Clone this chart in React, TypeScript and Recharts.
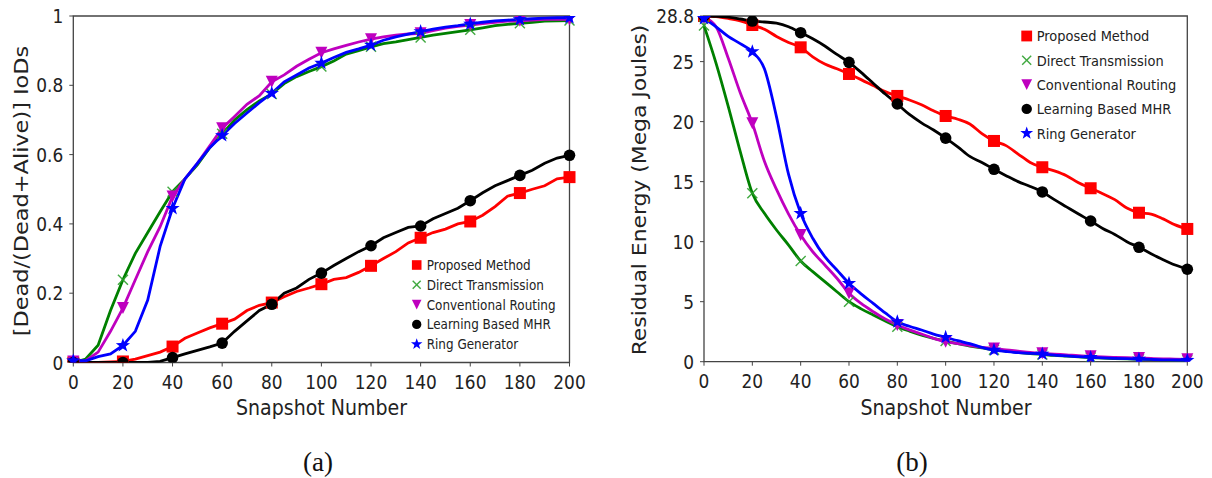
import React from 'react';
import { LineChart, Line, XAxis, YAxis, ReferenceArea } from 'recharts';

// ---------- data ----------
const snapshots = [0,5,10,15,20,25,30,35,40,45,50,55,60,65,70,75,80,85,90,95,100,105,110,115,120,125,130,135,140,145,150,155,160,165,170,175,180,185,190,195,200];
const snapshotTicks = [0,20,40,60,80,100,120,140,160,180,200];

// (a) Dead/(Dead+Alive) IoDs
const iodProposed = [0,0,0,0.002,0.003,0.01,0.02,0.03,0.046,0.07,0.085,0.1,0.112,0.125,0.15,0.165,0.173,0.19,0.205,0.215,0.226,0.24,0.245,0.26,0.279,0.3,0.32,0.345,0.36,0.375,0.385,0.4,0.407,0.425,0.45,0.48,0.489,0.5,0.51,0.53,0.535];
const iodDirect = [0,0.01,0.05,0.15,0.239,0.315,0.375,0.435,0.493,0.53,0.57,0.62,0.66,0.7,0.73,0.755,0.775,0.805,0.825,0.84,0.854,0.87,0.89,0.9,0.911,0.92,0.925,0.932,0.938,0.945,0.95,0.955,0.96,0.966,0.972,0.976,0.979,0.982,0.985,0.986,0.987];
const iodConventional = [0.003,0.005,0.03,0.09,0.157,0.239,0.32,0.392,0.479,0.53,0.575,0.625,0.676,0.71,0.745,0.77,0.81,0.83,0.855,0.875,0.894,0.905,0.915,0.925,0.933,0.94,0.945,0.948,0.95,0.958,0.965,0.97,0.974,0.978,0.982,0.985,0.986,0.988,0.99,0.99,0.99];
const iodLearning = [0,0,0,0,0,0,0,0.003,0.014,0.025,0.035,0.045,0.056,0.09,0.12,0.15,0.168,0.2,0.215,0.24,0.258,0.28,0.3,0.32,0.337,0.36,0.375,0.39,0.394,0.415,0.43,0.445,0.467,0.49,0.51,0.525,0.54,0.555,0.575,0.59,0.598];
const iodRing = [0.005,0.005,0.017,0.025,0.049,0.09,0.18,0.335,0.445,0.53,0.575,0.62,0.655,0.69,0.72,0.75,0.777,0.81,0.83,0.85,0.864,0.88,0.895,0.905,0.916,0.93,0.94,0.948,0.955,0.962,0.968,0.972,0.977,0.982,0.986,0.988,0.99,0.992,0.994,0.995,0.995];
const iodTicks = [0,0.2,0.4,0.6,0.8,1];

// (b) Residual energy (Mega Joules)
const energyProposed = [28.8,28.75,28.6,28.4,28.05,27.7,27.1,26.6,26.19,25.4,24.8,24.4,23.97,23.5,23.0,22.5,22.14,21.8,21.4,20.9,20.47,20.2,19.8,19.0,18.39,18.0,17.3,16.6,16.2,15.9,15.5,14.9,14.45,14.0,13.5,12.8,12.41,12.3,11.9,11.4,11.06];
const energyDirect = [28.0,24.86,21.3,17.5,14.03,12.36,10.97,9.72,8.39,7.5,6.67,5.83,5.0,4.4,3.89,3.4,2.92,2.55,2.22,1.95,1.72,1.5,1.3,1.15,1.0,0.88,0.78,0.68,0.6,0.52,0.46,0.4,0.35,0.3,0.26,0.23,0.2,0.17,0.15,0.13,0.12];
const energyConventional = [28.7,27.9,25.3,22.4,19.86,16.7,14.35,12.3,10.56,9.16,8.06,6.95,5.7,4.85,4.17,3.55,3.06,2.65,2.31,1.95,1.67,1.5,1.35,1.2,1.1,0.98,0.88,0.78,0.7,0.63,0.57,0.5,0.45,0.4,0.36,0.33,0.3,0.27,0.24,0.22,0.2];
const energyLearning = [28.8,28.78,28.7,28.55,28.38,28.3,28.2,27.9,27.41,26.9,26.3,25.6,24.94,24.1,23.2,22.3,21.47,20.6,19.9,19.3,18.63,17.9,17.1,16.6,16.03,15.5,15.0,14.6,14.14,13.5,12.9,12.3,11.72,11.1,10.6,10.0,9.53,9.0,8.5,8.05,7.7];
const energyRing = [28.6,27.9,27.1,26.5,25.83,24.4,20.4,15.6,12.36,10.28,8.75,7.64,6.53,5.65,4.86,4.07,3.33,2.95,2.64,2.3,2.03,1.75,1.5,1.2,0.97,0.85,0.75,0.7,0.64,0.55,0.48,0.42,0.36,0.32,0.28,0.25,0.22,0.19,0.16,0.14,0.12];
const energyTicks = [0,5,10,15,20,25,28.8];

const seriesNames = ['Proposed Method','Direct Transmission','Conventional Routing','Learning Based MHR','Ring Generator'];
const seriesColors = ['#ff0000','#008000','#bf00bf','#000000','#0000ff'];
const markerKinds = ['square','x','tri','circle','star'];

const iodRows = snapshots.map((s, i) => ({ x: s, s0: iodProposed[i], s1: iodDirect[i], s2: iodConventional[i], s3: iodLearning[i], s4: iodRing[i] }));
const energyRows = snapshots.map((s, i) => ({ x: s, s0: energyProposed[i], s1: energyDirect[i], s2: energyConventional[i], s3: energyLearning[i], s4: energyRing[i] }));

// ---------- markers ----------
function starPath(cx: number, cy: number, R: number, r: number) {
  let d = '';
  for (let k = 0; k < 10; k++) {
    const rad = k % 2 === 0 ? R : r;
    const a = -Math.PI / 2 + (k * Math.PI) / 5;
    d += (k === 0 ? 'M' : 'L') + (cx + rad * Math.cos(a)).toFixed(2) + ',' + (cy + rad * Math.sin(a)).toFixed(2);
  }
  return d + 'Z';
}

function Marker({ kind, cx, cy, color, s }: { kind: string; cx: number; cy: number; color: string; s: number }) {
  if (kind === 'square') return <rect x={cx - 6 * s} y={cy - 6 * s} width={12 * s} height={12 * s} fill={color} />;
  if (kind === 'x') {
    const h = 5 * s;
    return (
      <g stroke="#2ca02c" strokeWidth={1.4} opacity={0.9}>
        <line x1={cx - h} y1={cy - h} x2={cx + h} y2={cy + h} />
        <line x1={cx - h} y1={cy + h} x2={cx + h} y2={cy - h} />
      </g>
    );
  }
  if (kind === 'tri') {
    const r = 6 * s;
    return <polygon points={`${cx - r},${cy - r} ${cx + r},${cy - r} ${cx},${cy + r}`} fill={color} />;
  }
  if (kind === 'circle') return <circle cx={cx} cy={cy} r={5.8 * s} fill={color} />;
  return <path d={starPath(cx, cy, 7.5 * s, 3 * s)} fill={color} />;
}

function makeDot(idx: number) {
  return (p: any) => {
    const key = `d${idx}-${p.index}`;
    if (p.payload == null || p.payload.x % 20 !== 0 || p.cx == null) return <g key={key} />;
    return (
      <g key={key}>
        <Marker kind={markerKinds[idx]} cx={p.cx} cy={p.cy} color={seriesColors[idx]} s={1} />
      </g>
    );
  };
}

// ---------- ticks ----------
const FONT = '"DejaVu Sans", Verdana, sans-serif';
const SY = 1.15;

function XTick(p: any) {
  return (
    <g transform={`translate(${p.x},${p.y}) scale(1,${SY})`}>
      <text x={0} y={14} textAnchor="middle" fontFamily={FONT} fontSize={17} fill="#222">
        {String(p.payload.value)}
      </text>
    </g>
  );
}

function YTick(p: any) {
  return (
    <g transform={`translate(${p.x},${p.y}) scale(1,${SY})`}>
      <text x={0} y={6.2} textAnchor="end" fontFamily={FONT} fontSize={17} fill="#222">
        {String(p.payload.value)}
      </text>
    </g>
  );
}

// ---------- panel ----------
function Panel({ rows, yDomain, yTicks, width, yAxisWidth, right, bottom, curve }: any) {
  const height = 400;
  return (
    <LineChart width={width} height={height} data={rows} margin={{ top: 16, left: 0, right, bottom }}>
      <ReferenceArea x1={0} x2={200} y1={yDomain[0]} y2={yDomain[1]} fill="none" stroke="#444" strokeWidth={1.3} ifOverflow="visible" />
      <XAxis
        dataKey="x"
        type="number"
        domain={[0, 200]}
        ticks={snapshotTicks}
        height={30}
        axisLine={false}
        tickLine={{ stroke: '#444' }}
        tickSize={4}
        tickMargin={6}
        tick={<XTick />}
        interval={0}
      />
      <YAxis
        type="number"
        domain={yDomain}
        ticks={yTicks}
        width={yAxisWidth}
        axisLine={false}
        tickLine={{ stroke: '#444' }}
        tickSize={4}
        tickMargin={6}
        tick={<YTick />}
        interval={0}
        allowDataOverflow
      />
      {[0, 1, 2, 3, 4].map((i) => (
        <Line
          key={i}
          dataKey={`s${i}`}
          type={curve}
          stroke={seriesColors[i]}
          strokeWidth={2.8}
          dot={makeDot(i)}
          activeDot={false}
          isAnimationActive={false}
        />
      ))}
    </LineChart>
  );
}

function LegendBlock({ x, y, gap, fontSize, s }: { x: number; y: number; gap: number; fontSize: number; s: number }) {
  return (
    <g>
      {seriesNames.map((name, i) => {
        const cy = y + i * gap;
        return (
          <g key={name}>
            <Marker kind={markerKinds[i]} cx={x} cy={cy} color={seriesColors[i]} s={s} />
            <g transform={`translate(${x + 10},${cy}) scale(1,${SY})`}>
              <text x={0} y={fontSize * 0.36} fontFamily={FONT} fontSize={fontSize} fill="#222">
                {name}
              </text>
            </g>
          </g>
        );
      })}
    </g>
  );
}

export default function App() {
  return (
    <div style={{ position: 'absolute', left: 0, top: 0, width: 1212, height: 478, background: '#fff', overflow: 'hidden' }}>
      <div style={{ position: 'absolute', left: 0, top: 0 }}>
        <Panel rows={iodRows} yDomain={[0, 1]} yTicks={iodTicks} width={600} yAxisWidth={73.3} right={30.5} bottom={7.5} curve="linear" />
      </div>
      <div style={{ position: 'absolute', left: 620, top: 0 }}>
        <Panel rows={energyRows} yDomain={[0, 28.8]} yTicks={energyTicks} width={590} yAxisWidth={84} right={22.7} bottom={8.3} curve="monotone" />
      </div>
      <svg width={1212} height={478} style={{ position: 'absolute', left: 0, top: 0, pointerEvents: 'none' }}>
        <g transform={`translate(321.5,415) scale(1,${SY})`}>
          <text textAnchor="middle" fontFamily={FONT} fontSize={19} fill="#222">Snapshot Number</text>
        </g>
        <g transform={`translate(946,415) scale(1,${SY})`}>
          <text textAnchor="middle" fontFamily={FONT} fontSize={19} fill="#222">Snapshot Number</text>
        </g>
        <g transform={`translate(28,191) rotate(-90) scale(${SY},1)`}>
          <text textAnchor="middle" fontFamily={FONT} fontSize={19.5} fill="#222">[Dead/(Dead+Alive)] IoDs</text>
        </g>
        <g transform={`translate(646,190) rotate(-90) scale(${SY},1)`}>
          <text textAnchor="middle" fontFamily={FONT} fontSize={19} fill="#222">Residual Energy (Mega Joules)</text>
        </g>
        <LegendBlock x={416.7} y={265} gap={19.8} fontSize={12} s={0.8} />
        <LegendBlock x={1026.7} y={36} gap={24.3} fontSize={13} s={0.9} />
        <text x={318} y={471} textAnchor="middle" fontFamily='"Liberation Serif", "DejaVu Serif", serif' fontSize={27} fill="#111">(a)</text>
        <text x={912} y={471} textAnchor="middle" fontFamily='"Liberation Serif", "DejaVu Serif", serif' fontSize={27} fill="#111">(b)</text>
      </svg>
    </div>
  );
}
